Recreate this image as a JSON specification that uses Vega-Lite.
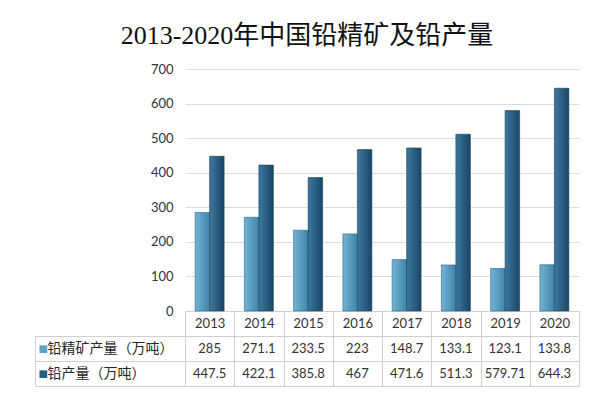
{
  "$schema": "https://vega.github.io/schema/vega-lite/v6.json",
  "padding": {"left": 34, "top": 23, "right": 22, "bottom": 10},
  "background": "white",
  "title": {"text": "2013-2020年中国铅精矿及铅产量", "font": "Liberation Serif, Noto Sans CJK SC", "fontSize": 26, "fontWeight": "normal", "color": "#111111", "anchor": "middle", "offset": 14},
  "data": {"values": [
    {"year": "2013", "series": "铅精矿产量（万吨）", "value": 285},
    {"year": "2014", "series": "铅精矿产量（万吨）", "value": 271.1},
    {"year": "2015", "series": "铅精矿产量（万吨）", "value": 233.5},
    {"year": "2016", "series": "铅精矿产量（万吨）", "value": 223},
    {"year": "2017", "series": "铅精矿产量（万吨）", "value": 148.7},
    {"year": "2018", "series": "铅精矿产量（万吨）", "value": 133.1},
    {"year": "2019", "series": "铅精矿产量（万吨）", "value": 123.1},
    {"year": "2020", "series": "铅精矿产量（万吨）", "value": 133.8},
    {"year": "2013", "series": "铅产量（万吨）", "value": 447.5},
    {"year": "2014", "series": "铅产量（万吨）", "value": 422.1},
    {"year": "2015", "series": "铅产量（万吨）", "value": 385.8},
    {"year": "2016", "series": "铅产量（万吨）", "value": 467},
    {"year": "2017", "series": "铅产量（万吨）", "value": 471.6},
    {"year": "2018", "series": "铅产量（万吨）", "value": 511.3},
    {"year": "2019", "series": "铅产量（万吨）", "value": 579.71},
    {"year": "2020", "series": "铅产量（万吨）", "value": 644.3}
  ]},
  "bounds": "flush",
  "spacing": 25,
  "vconcat": [
    {
      "width": 394,
      "height": 242,
      "encoding": {
        "x": {"field": "year", "type": "nominal", "sort": null,
          "scale": {"type": "band", "paddingInner": 0, "paddingOuter": 0},
          "axis": {"title": null, "orient": "bottom", "tickBand": "extent", "ticks": true, "tickSize": 25, "tickColor": "#cfcfcf", "domainColor": "#cfcfcf", "labelAngle": 0, "labelFont": "Lato", "labelFontSize": 13, "labelColor": "#333333", "labelPadding": -19, "grid": false}},
        "xOffset": {"field": "series", "type": "nominal", "scale": {"domain": ["铅精矿产量（万吨）", "铅产量（万吨）"], "paddingInner": 0, "paddingOuter": 0.7}},
        "y": {"field": "value", "type": "quantitative", "scale": {"domain": [0, 700], "nice": false},
          "axis": {"title": null, "values": [0, 100, 200, 300, 400, 500, 600, 700], "grid": true, "gridColor": "#dcdcdc", "domain": false, "ticks": false, "labelPadding": 12, "labelFont": "Lato", "labelFontSize": 13, "labelColor": "#333333"}}
      },
      "layer": [
        {
          "transform": [{"filter": "datum.series == '铅精矿产量（万吨）'"}],
          "mark": {"type": "bar", "stroke": "#2f6383", "strokeWidth": 0.6,
            "fill": {"gradient": "linear", "x1": 0, "x2": 1, "y1": 0, "y2": 0, "stops": [{"offset": 0, "color": "#72b4d5"}, {"offset": 1, "color": "#3f84ab"}]}}
        },
        {
          "transform": [{"filter": "datum.series == '铅产量（万吨）'"}],
          "mark": {"type": "bar", "stroke": "#173f5a", "strokeWidth": 0.6,
            "fill": {"gradient": "linear", "x1": 0, "x2": 1, "y1": 0, "y2": 0, "stops": [{"offset": 0, "color": "#3d78a0"}, {"offset": 1, "color": "#184767"}]}}
        }
      ]
    },
    {
      "width": 394,
      "height": 50,
      "encoding": {
        "x": {"field": "year", "type": "nominal", "sort": null,
          "scale": {"type": "band", "paddingInner": 0, "paddingOuter": 0},
          "axis": {"title": null, "labels": false, "ticks": false, "domain": false, "grid": true, "tickBand": "extent", "gridColor": "#cfcfcf", "gridOpacity": 1, "gridWidth": 1}}
      },
      "layer": [
        {
          "mark": {"type": "text", "font": "Lato", "fontSize": 13, "color": "#333333"},
          "encoding": {
            "text": {"field": "value", "type": "nominal"},
            "y": {"field": "series", "type": "nominal", "sort": null, "scale": {"domain": ["铅精矿产量（万吨）", "铅产量（万吨）"]},
              "axis": {"title": null, "orient": "left", "tickBand": "extent", "ticks": true, "tickSize": 150, "tickColor": "#cfcfcf", "domain": false, "grid": true, "gridColor": "#cfcfcf", "labelAlign": "left", "labelPadding": -12, "labelFont": "Noto Sans CJK SC", "labelFontSize": 14, "labelColor": "#262626"}}
          }
        },
        {
          "mark": {"type": "text", "opacity": 0},
          "encoding": {
            "text": {"field": "value", "type": "nominal"},
            "y": {"field": "series", "type": "nominal", "sort": null, "scale": {"domain": ["铅精矿产量（万吨）", "铅产量（万吨）"]},
              "axis": {"title": null, "orient": "left", "offset": 150, "domain": true, "domainColor": "#cfcfcf", "ticks": false, "grid": false, "labelExpr": "'■'", "labelAlign": "left", "labelPadding": -3, "labelFont": "DejaVu Sans", "labelFontSize": 10,
                "labelColor": {"condition": {"test": "datum.value == '铅精矿产量（万吨）'", "value": "#5ba3c9"}, "value": "#245d82"}}}
          }
        }
      ],
      "resolve": {"axis": {"y": "independent"}}
    }
  ],
  "config": {"view": {"stroke": null}}
}
